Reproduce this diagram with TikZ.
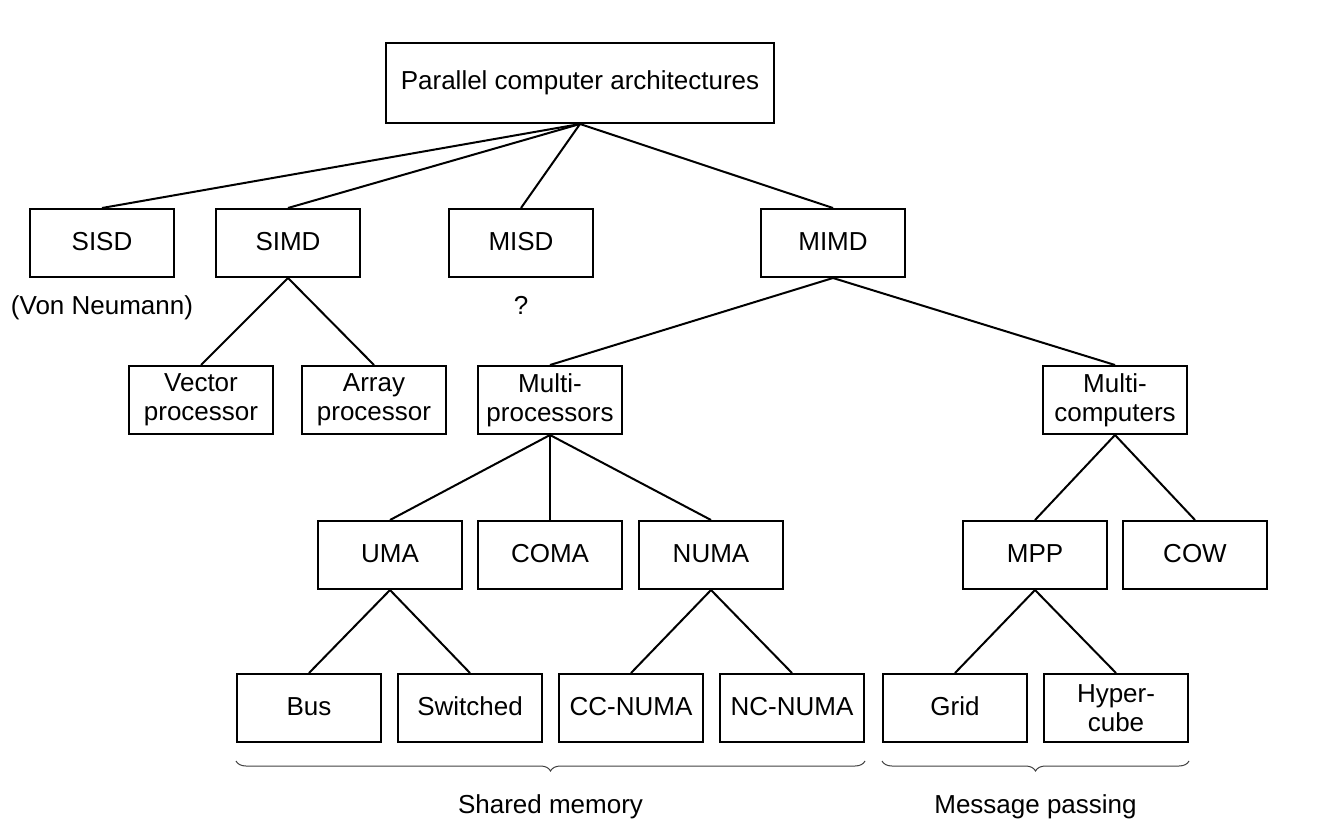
\documentclass[tikz,border=0pt]{standalone}
\usepackage{fontspec}
\setmainfont{Liberation Sans}
\usetikzlibrary{positioning,decorations.pathreplacing}
\tikzstyle{cbox}=[rectangle, draw=black, line width=2pt, minimum width=144pt,
                  minimum height=68pt, inner sep=2pt, text centered, align=center,
                  font=\fontsize{26}{29}\selectfont]
\tikzstyle{sbox}=[cbox, text height=19pt, text depth=5pt]
\tikzstyle{topbox}=[sbox, minimum width=388pt, minimum height=80pt]
\tikzstyle{tbox}=[rectangle, inner sep=0pt, text height=19pt, text depth=6pt,
                  font=\fontsize{26}{29}\selectfont]
\tikzstyle{tline}=[-, line width=2pt]
\tikzstyle{brc}=[decorate, decoration={brace, mirror, amplitude=10pt}, line width=1pt, draw=black!75]

\begin{document}
\begin{tikzpicture}[x=1pt, y=1pt, node distance=15pt]
\useasboundingbox (0,0) rectangle (1329,-837);

\node (PCA) [topbox] at (580,-83) {Parallel computer architectures};

\node (SISD) [sbox] at (102,-243) {SISD};
\node (SIMD) [sbox, right=40pt of SISD] {SIMD};
\node (MISD) [sbox] at (521,-243) {MISD};
\node (MIMD) [sbox] at (833,-243) {MIMD};
\node (VN) [tbox, below=17pt of SISD] {(Von Neumann)};
\node (QM) [tbox, below=17pt of MISD] {?};

\node (VEC) [cbox] at (201,-400) {Vector\\processor};
\node (ARR) [cbox, right=27pt of VEC] {Array\\processor};
\node (MPR) [cbox] at (550,-400) {Multi-\\processors};
\node (MCO) [cbox] at (1115,-400) {Multi-\\computers};

\node (UMA) [sbox] at (390,-555) {UMA};
\node (COMA) [sbox, right=14pt of UMA] {COMA};
\node (NUMA) [sbox, right=15pt of COMA] {NUMA};
\node (MPP) [sbox] at (1035,-555) {MPP};
\node (COW) [sbox, right=14pt of MPP] {COW};

\node (BUS) [sbox] at (309,-708) {Bus};
\node (SW) [sbox, right=15pt of BUS] {Switched};
\node (CCN) [sbox, right=15pt of SW] {CC-NUMA};
\node (NCN) [sbox, right=15pt of CCN] {NC-NUMA};
\node (GRID) [sbox, right=17pt of NCN] {Grid};
\node (HYP) [cbox, right=15pt of GRID] {Hyper-\\cube};

 \draw[tline] (PCA.south) -- (SISD.north);
 \draw[tline] (PCA.south) -- (SIMD.north);
 \draw[tline] (PCA.south) -- (MISD.north);
 \draw[tline] (PCA.south) -- (MIMD.north);
 \draw[tline] (SIMD.south) -- (VEC.north);
 \draw[tline] (SIMD.south) -- (ARR.north);
 \draw[tline] (MIMD.south) -- (MPR.north);
 \draw[tline] (MIMD.south) -- (MCO.north);
 \draw[tline] (MPR.south) -- (UMA.north);
 \draw[tline] (MPR.south) -- (COMA.north);
 \draw[tline] (MPR.south) -- (NUMA.north);
 \draw[tline] (MCO.south) -- (MPP.north);
 \draw[tline] (MCO.south) -- (COW.north);
 \draw[tline] (UMA.south) -- (BUS.north);
 \draw[tline] (UMA.south) -- (SW.north);
 \draw[tline] (NUMA.south) -- (CCN.north);
 \draw[tline] (NUMA.south) -- (NCN.north);
 \draw[tline] (MPP.south) -- (GRID.north);
 \draw[tline] (MPP.south) -- (HYP.north);

\draw[brc] ([yshift=-18pt]BUS.south west) -- node[tbox, below=33pt] (SHM) {Shared memory} ([yshift=-18pt]NCN.south east);
\draw[brc] ([yshift=-18pt]GRID.south west) -- node[tbox, below=33pt] (MSG) {Message passing} ([yshift=-18pt]HYP.south east);

\end{tikzpicture}
\end{document}
